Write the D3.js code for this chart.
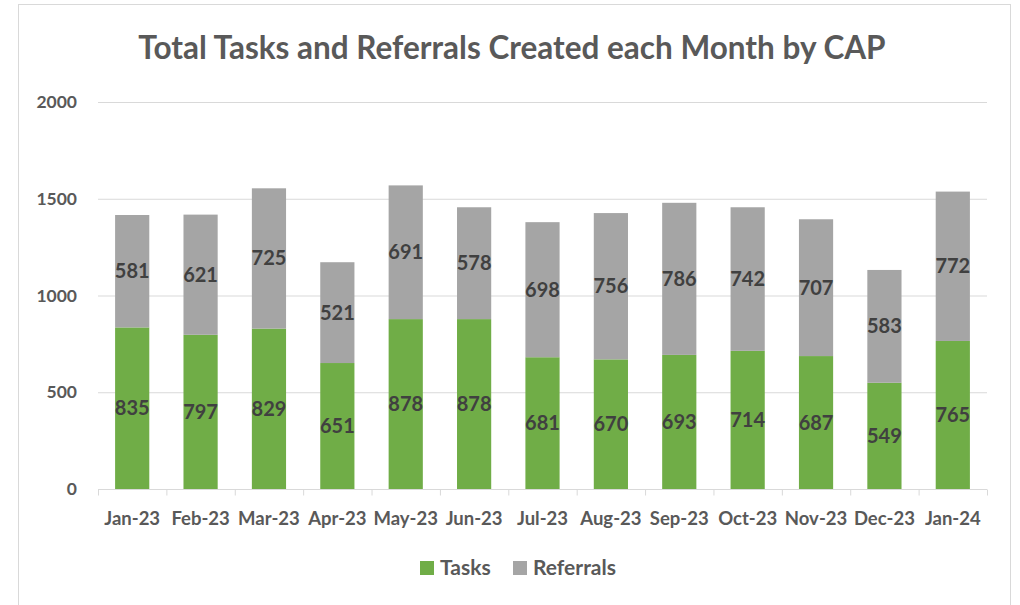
<!DOCTYPE html>
<html>
<head>
<meta charset="utf-8">
<script src="https://cdn.jsdelivr.net/npm/d3@7"></script>
<style>
  body { margin: 0; background: #fff; }
  svg { font-family: Lato, "Open Sans", sans-serif; }
</style>
</head>
<body>
<svg id="chart" width="1020" height="605"></svg>
<script>
const months = ['Jan-23', 'Feb-23', 'Mar-23', 'Apr-23', 'May-23', 'Jun-23', 'Jul-23',
  'Aug-23', 'Sep-23', 'Oct-23', 'Nov-23', 'Dec-23', 'Jan-24'];
const tasks = [835, 797, 829, 651, 878, 878, 681, 670, 693, 714, 687, 549, 765];
const referrals = [581, 621, 725, 521, 691, 578, 698, 756, 786, 742, 707, 583, 772];
const yTicks = [0, 500, 1000, 1500, 2000];

const seriesNames = ['Tasks', 'Referrals'];
const colors = { Tasks: '#70AD47', Referrals: '#A5A5A5' };

const svg = d3.select('#chart');
const width = 1020;
const margin = { top: 102, right: 33, bottom: 116, left: 98 };
const height = 605;

// chart frame
svg.append('rect')
  .attr('x', 18.5).attr('y', 4.5)
  .attr('width', 992).attr('height', 620)
  .attr('fill', '#fff').attr('stroke', '#D9D9D9');

const table = months.map((m, i) => ({ month: m, Tasks: tasks[i], Referrals: referrals[i] }));
const stacked = d3.stack().keys(seriesNames)(table);

const x = d3.scaleBand()
  .domain(months)
  .range([margin.left, width - margin.right])
  .paddingInner(0.5)
  .paddingOuter(0.25);

const y = d3.scaleLinear()
  .domain([0, 2000])
  .range([height - margin.bottom, margin.top]);

// gridlines
svg.append('g')
  .selectAll('line')
  .data(yTicks.slice(1))
  .join('line')
  .attr('x1', margin.left).attr('x2', width - margin.right)
  .attr('y1', d => y(d) + 0.5).attr('y2', d => y(d) + 0.5)
  .attr('stroke', '#D9D9D9');

// y labels
svg.append('g')
  .selectAll('text')
  .data(yTicks)
  .join('text')
  .attr('x', 77)
  .attr('y', d => y(d))
  .attr('dy', '0.35em')
  .attr('text-anchor', 'end')
  .attr('font-size', 17.5)
  .attr('font-weight', 'bold')
  .attr('fill', '#595959')
  .text(d => d);

// bars
const groups = svg.append('g')
  .selectAll('g')
  .data(stacked)
  .join('g')
  .attr('fill', d => colors[d.key]);

groups.selectAll('rect')
  .data(d => d)
  .join('rect')
  .attr('x', d => x(d.data.month))
  .attr('width', x.bandwidth())
  .attr('y', d => y(d[1]))
  .attr('height', d => y(d[0]) - y(d[1]));

// value labels
groups.selectAll('text')
  .data(d => d)
  .join('text')
  .attr('x', d => x(d.data.month) + x.bandwidth() / 2)
  .attr('y', d => (y(d[0]) + y(d[1])) / 2)
  .attr('dy', '0.35em')
  .attr('text-anchor', 'middle')
  .attr('font-size', 20)
  .attr('font-weight', 'bold')
  .attr('fill', '#404040')
  .text(d => d[1] - d[0]);

// x axis
const xAxis = svg.append('g')
  .attr('transform', `translate(0, ${y(0) + 0.5})`)
  .call(d3.axisBottom(x).tickSize(0).tickPadding(22));
xAxis.select('.domain').attr('stroke', '#D9D9D9').attr('d', `M${margin.left},0H${width - margin.right}`);
xAxis.selectAll('text')
  .attr('font-family', 'Lato, "Open Sans", sans-serif')
  .attr('font-size', 18.5)
  .attr('font-weight', 'bold')
  .attr('fill', '#595959');

const step = x.step();
xAxis.append('g')
  .selectAll('line')
  .data(d3.range(months.length + 1))
  .join('line')
  .attr('x1', i => margin.left + i * step + 0.5)
  .attr('x2', i => margin.left + i * step + 0.5)
  .attr('y1', 0).attr('y2', 6)
  .attr('stroke', '#D9D9D9');

// title
svg.append('text')
  .attr('x', 512).attr('y', 59)
  .attr('text-anchor', 'middle')
  .attr('font-size', 31.5)
  .attr('font-weight', 'bold')
  .attr('fill', '#595959')
  .text('Total Tasks and Referrals Created each Month by CAP');

// legend
const legend = svg.append('g').attr('transform', 'translate(420, 568)');
const legendX = [0, 93];
seriesNames.forEach((name, i) => {
  const g = legend.append('g').attr('transform', `translate(${legendX[i]}, 0)`);
  g.append('rect').attr('x', 0).attr('y', -7).attr('width', 14).attr('height', 14).attr('fill', colors[name]);
  g.append('text')
    .attr('x', 20).attr('y', 0).attr('dy', '0.35em')
    .attr('font-size', 21).attr('font-weight', 'bold').attr('fill', '#595959')
    .text(name);
});
</script>
</body>
</html>
